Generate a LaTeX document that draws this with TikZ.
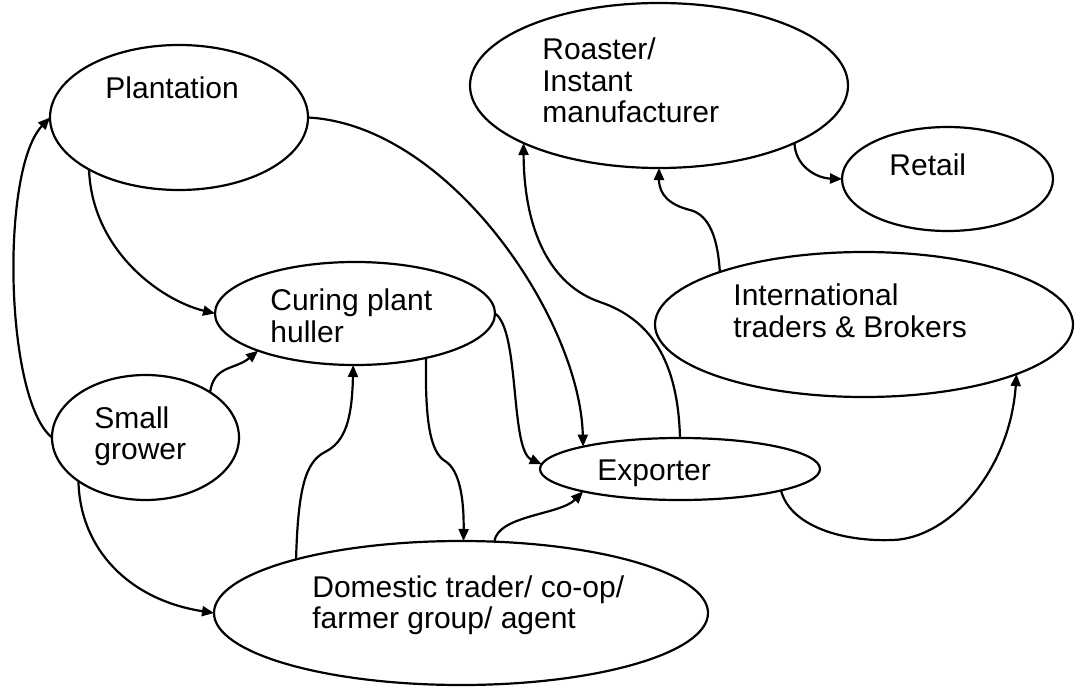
\documentclass[tikz,border=0pt]{standalone}
\usepackage{fontspec}
\setmainfont{Liberation Sans}
\usetikzlibrary{shapes.geometric,arrows.meta}

\begin{document}
\begin{tikzpicture}[x=0.5pt,y=-0.5pt,
  oval/.style={ellipse,draw,line width=1.1pt,inner sep=0pt,outer sep=0pt},
  lbl/.style={anchor=west,align=left,inner sep=0pt,font=\fontsize{15}{15.75}\selectfont},
  flow/.style={line width=1.1pt,-{Triangle[length=6pt,width=5pt]}}]
\fill[white] (0,0) rectangle (1076,690);
\useasboundingbox (0,0) rectangle (1076,690);

% actors of the chain
\node[oval,minimum width=129pt,minimum height=72.5pt] (plant) at (179,117.5) {};
\node[oval,minimum width=140pt,minimum height=51.5pt] (cure)  at (355,313.5) {};
\node[oval,minimum width=93.5pt,minimum height=62.5pt] (grow) at (145.5,437.5) {};
\node[oval,minimum width=247pt,minimum height=72pt]   (dom)   at (461,613) {};
\node[oval,minimum width=140pt,minimum height=31pt]   (exp)   at (680,469) {};
\node[oval,minimum width=189pt,minimum height=82.5pt] (rst)   at (659,85.5) {};
\node[oval,minimum width=105.5pt,minimum height=52pt] (ret)   at (947.5,179) {};
\node[oval,minimum width=209pt,minimum height=72.5pt] (int)   at (864,324.5) {};

% labels
\node[lbl] (tPlant) at (105,88)   {Plantation};
\node[lbl] (tCure)  at (270,316)  {Curing plant\\huller};
\node[lbl] (tGrow)  at (94,436)   {Small\\grower};
\node[lbl] (tDom)   at (312,605)  {Domestic trader/ co-op/\\farmer group/ agent};
\node[lbl] (tExp)   at (597,473)  {Exporter};
\node[lbl] (tRst)   at (542,80.5) {Roaster/\\Instant\\manufacturer};
\node[lbl] (tRet)   at (889,165)  {Retail};
\node[lbl] (tInt)   at (733,311)  {International\\traders \& Brokers};

% flows
\draw[flow] (grow.180) .. controls (5,400) and (0,170) .. (plant.180);
\draw[flow] (plant.210) .. controls (92,250) and (160,300) .. (cure.180);
\draw[flow] (plant.0) .. controls (450,125) and (580,320) .. (exp.167);
\draw[flow] (cure.0) .. controls (520,330) and (510,450) .. (exp.178);
\draw[flow] (cure.-32) .. controls (425,420) and (430,452) .. (445,461)
                       .. controls (460,470) and (464,500) .. (dom.88);
\draw[flow] (dom.162) .. controls (298,490) and (305,462) .. (325,452)
                      .. controls (345,442) and (352,420) .. (cure.-92);
\draw[flow] (grow.35) .. controls (214,365) and (235,370) .. (cure.201);
\draw[flow] (grow.213) .. controls (80,550) and (130,600) .. (dom.180);
\draw[flow] (dom.65) .. controls (498,515) and (560,515) .. (exp.193);
\draw[flow] (exp.90) .. controls (678,360) and (650,319) .. (600,302)
                     .. controls (550,285) and (524,230) .. (rst.203);
\draw[flow] (int.160) .. controls (718,240) and (710,215) .. (690,210)
                      .. controls (670,205) and (659,195) .. (rst.-90);
\draw[flow] (rst.-23.5) .. controls (795,165) and (815,178) .. (ret.180);
\draw[flow] (exp.-12.5) .. controls (790,525) and (840,542) .. (893,540)
                        .. controls (950,538) and (1010,470) .. (int.-18.4);
\end{tikzpicture}
\end{document}
